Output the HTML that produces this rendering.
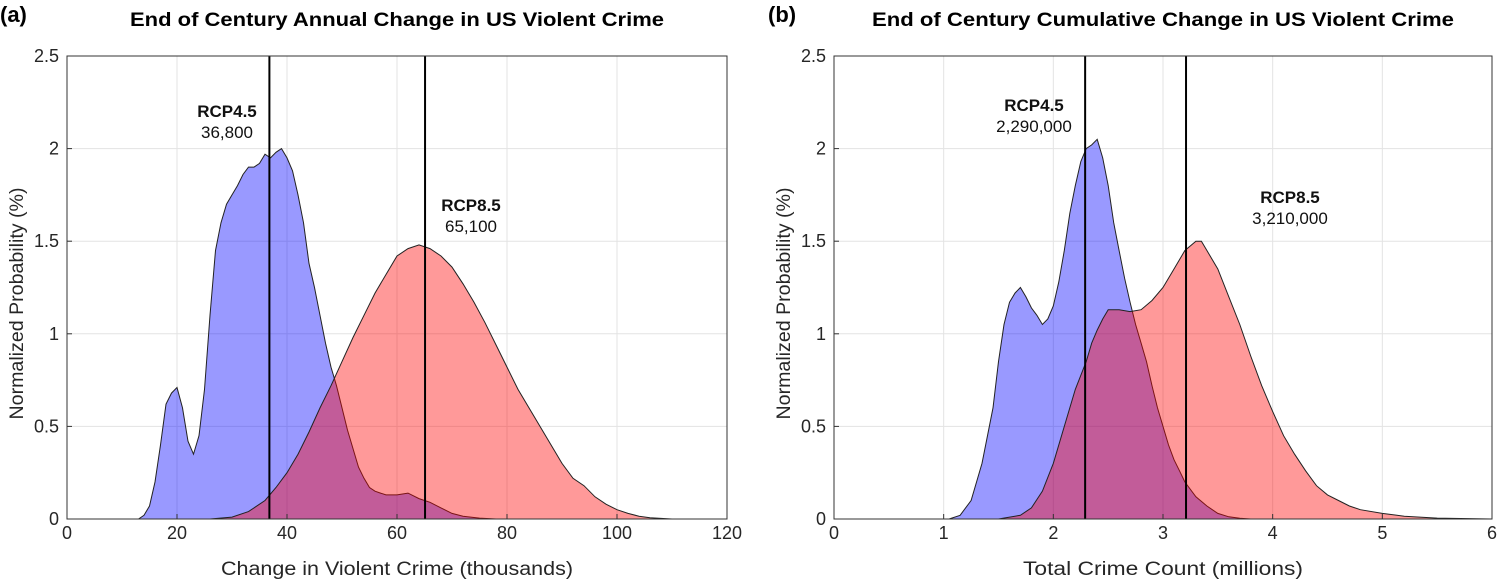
<!DOCTYPE html>
<html><head><meta charset="utf-8"><style>
body{margin:0;background:#fff;}
svg{display:block;font-family:"Liberation Sans",Arial,sans-serif;}
</style></head><body>
<svg id="c" width="1500" height="581" viewBox="0 0 1500 581"></svg>
<script>
// Panel (a): annual change (thousands)
const aBlueX=[0,13,14,15,16,17,18,19,20,21,22,23,24,25,26,27,28,29,30,31,32,33,34,35,36,37,38,39,40,41,42,43,44,45,46,47,48,49,50,51,52,53,54,55,56,57,58,60,62,64,66,68,70,72,75,78,120];
const aBlueY=[0,0,0.02,0.07,0.2,0.4,0.62,0.68,0.71,0.6,0.42,0.35,0.45,0.7,1.1,1.45,1.6,1.7,1.75,1.8,1.86,1.9,1.9,1.92,1.97,1.95,1.98,2.0,1.95,1.88,1.75,1.6,1.38,1.25,1.1,0.95,0.82,0.72,0.6,0.48,0.38,0.28,0.22,0.17,0.15,0.14,0.13,0.13,0.14,0.11,0.09,0.06,0.03,0.015,0.005,0,0];
const aRedX=[0,26,30,33,36,38,40,42,44,46,48,50,52,54,56,58,60,62,64,66,68,70,72,74,76,78,80,82,84,86,88,90,92,94,96,98,100,102,104,106,110,120];
const aRedY=[0,0,0.01,0.04,0.1,0.17,0.25,0.35,0.47,0.6,0.72,0.85,0.98,1.1,1.22,1.32,1.42,1.46,1.48,1.46,1.42,1.36,1.27,1.17,1.06,0.94,0.82,0.7,0.6,0.5,0.4,0.3,0.22,0.18,0.12,0.08,0.05,0.03,0.015,0.007,0,0];
const aMeans=[36.8,65.1];
const aXTicks=[0,20,40,60,80,100,120];
// Panel (b): cumulative (millions)
const bBlueX=[0,1.05,1.15,1.25,1.35,1.45,1.5,1.55,1.6,1.65,1.7,1.75,1.8,1.85,1.9,1.95,2.0,2.05,2.1,2.15,2.2,2.25,2.3,2.35,2.4,2.45,2.5,2.55,2.6,2.65,2.7,2.75,2.8,2.85,2.9,2.95,3.0,3.05,3.1,3.15,3.2,3.3,3.4,3.5,3.6,3.7,3.8,6];
const bBlueY=[0,0,0.02,0.1,0.3,0.6,0.85,1.05,1.17,1.22,1.25,1.2,1.14,1.1,1.05,1.08,1.15,1.28,1.45,1.65,1.8,1.93,2.0,2.02,2.05,1.95,1.8,1.6,1.45,1.3,1.17,1.05,0.95,0.85,0.72,0.6,0.5,0.4,0.32,0.26,0.2,0.12,0.07,0.03,0.012,0.004,0,0];
const bRedX=[0,1.5,1.7,1.8,1.9,2.0,2.1,2.2,2.3,2.35,2.4,2.45,2.5,2.6,2.7,2.8,2.9,3.0,3.1,3.2,3.3,3.35,3.4,3.5,3.6,3.7,3.8,3.9,4.0,4.1,4.2,4.3,4.4,4.5,4.6,4.7,4.8,5.0,5.2,5.5,6];
const bRedY=[0,0,0.02,0.06,0.15,0.3,0.5,0.7,0.85,0.95,1.02,1.08,1.13,1.13,1.12,1.13,1.18,1.25,1.35,1.45,1.5,1.5,1.45,1.35,1.2,1.05,0.88,0.72,0.58,0.45,0.35,0.26,0.18,0.13,0.1,0.07,0.05,0.03,0.015,0.005,0];
const bMeans=[2.29,3.21];
const bXTicks=[0,1,2,3,4,5,6];
const yTicks=[0,0.5,1,1.5,2,2.5];
const yTickLabels=["0","0.5","1","1.5","2","2.5"];

const NS="http://www.w3.org/2000/svg";
const svg=document.getElementById('c');
function mk(tag,attrs,parent,text){const e=document.createElementNS(NS,tag);for(const k in attrs)e.setAttribute(k,attrs[k]);if(text!==undefined)e.textContent=text;(parent||svg).appendChild(e);return e;}

function panel(o){
  const g=mk('g',{});
  
  
  const L=o.left,R=o.right,T=56,B=519;
  const sx=v=>L+(v-o.xmin)/(o.xmax-o.xmin)*(R-L);
  const sy=v=>B-v/2.5*(B-T);
  o.xticks.forEach(t=>{const l=mk('line',{x1:sx(t),x2:sx(t),y1:T,y2:B,stroke:'#e3e3e3','stroke-width':1},g);});
  yTicks.forEach(t=>{const l=mk('line',{x1:L,x2:R,y1:sy(t),y2:sy(t),stroke:'#e3e3e3','stroke-width':1},g);});
  const area=(xs,ys,fill,nm)=>{let d='M'+sx(xs[0])+','+sy(0);xs.forEach((x,i)=>{d+=' L'+sx(x).toFixed(1)+','+sy(ys[i]).toFixed(1);});d+=' L'+sx(xs[xs.length-1])+','+sy(0)+' Z';
    const p=mk('path',{d:d,fill:fill,stroke:'#222','stroke-width':1},g);};
  area(o.bx,o.by,'rgba(0,0,255,0.4)','rcp45-distribution');
  area(o.rx,o.ry,'rgba(255,0,0,0.4)','rcp85-distribution');
  o.means.forEach((m,i)=>{const l=mk('line',{x1:sx(m),x2:sx(m),y1:T,y2:B,stroke:'#000','stroke-width':2},g);});
  const r=mk('rect',{x:L,y:T,width:R-L,height:B-T,fill:'none',stroke:'#333','stroke-width':1},g);
  o.xticks.forEach(t=>{const tx=mk('text',{x:sx(t),y:539,'text-anchor':'middle','font-size':18,fill:'#262626'},g,String(t));
    mk('line',{x1:sx(t),x2:sx(t),y1:B,y2:B-5,stroke:'#333'},g);});
  yTicks.forEach((t,i)=>{const tx=mk('text',{x:L-8,y:sy(t)+6,'text-anchor':'end','font-size':18,fill:'#262626'},g,yTickLabels[i]);
    mk('line',{x1:L,x2:L+5,y1:sy(t),y2:sy(t),stroke:'#333'},g);});
  const xt=mk('text',{x:(L+R)/2,y:575,'text-anchor':'middle','font-size':19,fill:'#262626',textLength:o.xlabelLen,lengthAdjust:'spacingAndGlyphs'},g,o.xlabel);
  const yt=mk('text',{x:0,y:0,transform:`translate(${L-44},${(T+B)/2+16}) rotate(-90)`,'text-anchor':'middle','font-size':19,fill:'#262626',textLength:232,lengthAdjust:'spacingAndGlyphs'},g,'Normalized Probability (%)');
  const tt=mk('text',{x:(L+R)/2,y:26,'text-anchor':'middle','font-size':19,'font-weight':'bold',fill:'#000',textLength:o.titleLen,lengthAdjust:'spacingAndGlyphs'},g,o.title);
  const pl=mk('text',{x:o.tagX,y:22,'font-size':22,'font-weight':'bold',fill:'#000'},g,o.tag);
  o.ann.forEach((a,i)=>{
    const t1=mk('text',{x:a[0],y:a[1],'text-anchor':'middle','font-size':17,'font-weight':'bold',fill:'#111'},g,a[2]);
    const t2=mk('text',{x:a[0],y:a[1]+21,'text-anchor':'middle','font-size':17,fill:'#111'},g,a[3]);
  });
}
panel({name:'panel-a',left:67,right:727,xmin:0,xmax:120,xticks:aXTicks,bx:aBlueX,by:aBlueY,rx:aRedX,ry:aRedY,means:aMeans,
  xlabel:'Change in Violent Crime (thousands)',xlabelLen:352,title:'End of Century Annual Change in US Violent Crime',titleLen:534,tag:'(a)',tagX:0,
  ann:[[227,117,'RCP4.5','36,800'],[471,211,'RCP8.5','65,100']]});
panel({name:'panel-b',left:834,right:1492,xmin:0,xmax:6,xticks:bXTicks,bx:bBlueX,by:bBlueY,rx:bRedX,ry:bRedY,means:bMeans,
  xlabel:'Total Crime Count (millions)',xlabelLen:280,title:'End of Century Cumulative Change in US Violent Crime',titleLen:582,tag:'(b)',tagX:768,
  ann:[[1034,111,'RCP4.5','2,290,000'],[1290,203,'RCP8.5','3,210,000']]});
</script>
</body></html>
